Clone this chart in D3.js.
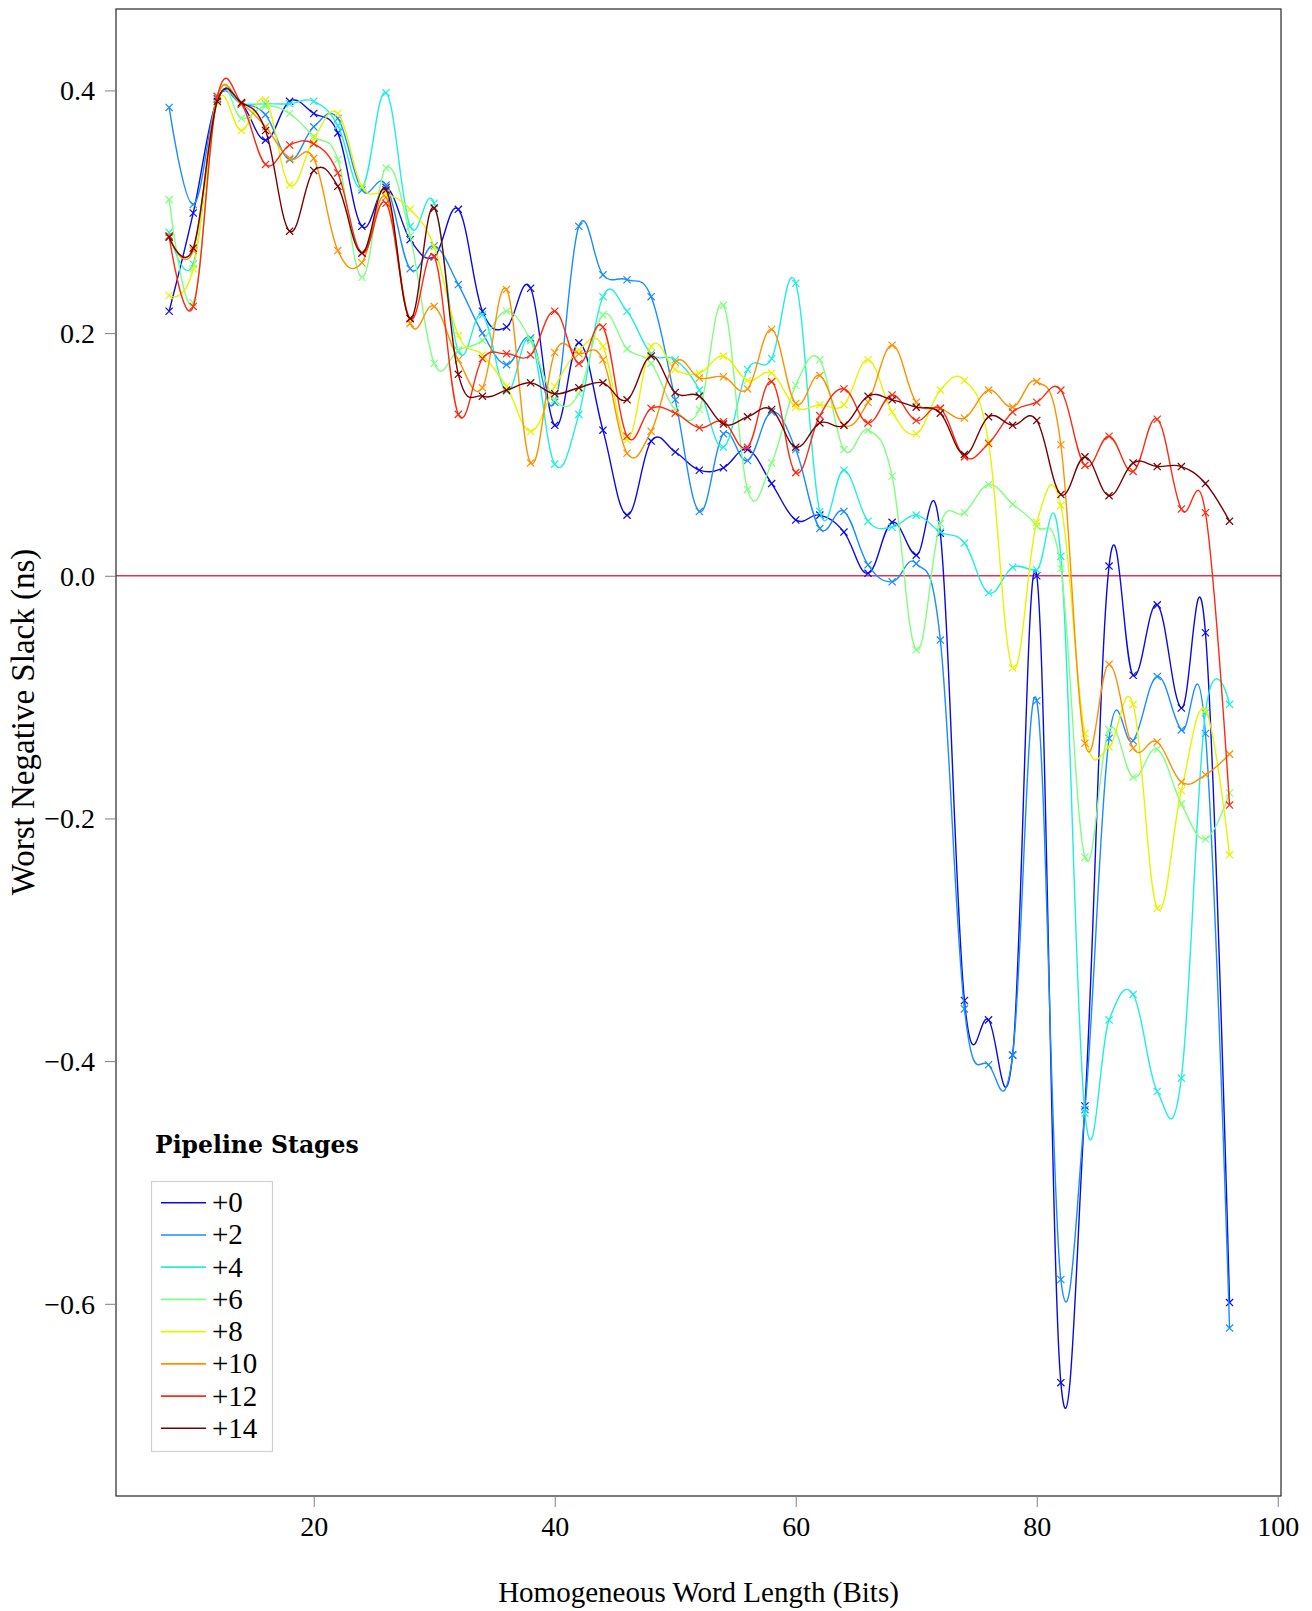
<!DOCTYPE html>
<html>
<head>
<meta charset="utf-8">
<script src="https://cdn.jsdelivr.net/npm/d3@7"></script>
<style>
  html, body { margin: 0; padding: 0; background: #fff; }
  svg { display: block; }
</style>
</head>
<body>
<svg id="chart" width="1312" height="1611"></svg>
<script>
// ---- Data ----
const wordLengths = [8,10,12,14,16,18,20,22,24,26,28,30,32,34,36,38,40,42,44,46,48,50,52,54,56,58,60,62,64,66,68,70,72,74,76,78,80,82,84,86,88,90,92,94,96];

const stageNames = ["+0","+2","+4","+6","+8","+10","+12","+14"];
const stageColors = ["#0a0ae8","#1a8cff","#22eedd","#80ff80","#e4f500","#ff9000","#ff2a10","#7a0000"];

const wns_p0  = [0.218,0.299,0.393,0.389,0.359,0.391,0.381,0.365,0.288,0.320,0.277,0.263,0.302,0.218,0.205,0.237,0.124,0.192,0.120,0.050,0.111,0.102,0.087,0.089,0.104,0.076,0.046,0.050,0.036,0.002,0.044,0.017,0.035,-0.350,-0.366,-0.395,0.000,-0.665,-0.437,0.008,-0.082,-0.024,-0.109,-0.047,-0.599];
const wns_p2  = [0.386,0.306,0.393,0.389,0.380,0.343,0.370,0.377,0.318,0.322,0.253,0.272,0.240,0.200,0.174,0.196,0.143,0.288,0.248,0.244,0.230,0.145,0.053,0.117,0.095,0.135,0.104,0.039,0.053,0.009,-0.005,0.010,-0.053,-0.357,-0.403,-0.395,-0.103,-0.580,-0.440,-0.134,-0.136,-0.083,-0.127,-0.130,-0.620];
const wns_p4  = [0.283,0.257,0.395,0.389,0.389,0.389,0.391,0.371,0.320,0.398,0.288,0.307,0.185,0.215,0.152,0.194,0.092,0.133,0.230,0.218,0.183,0.178,0.153,0.106,0.170,0.179,0.241,0.053,0.087,0.045,0.040,0.050,0.036,0.027,-0.014,0.007,0.005,0.016,-0.443,-0.366,-0.345,-0.425,-0.414,-0.113,-0.106];
const wns_p6  = [0.310,0.225,0.395,0.377,0.387,0.381,0.362,0.343,0.246,0.336,0.280,0.175,0.186,0.194,0.218,0.194,0.145,0.150,0.215,0.187,0.175,0.137,0.137,0.223,0.071,0.093,0.157,0.178,0.104,0.120,0.082,-0.061,0.043,0.052,0.075,0.059,0.041,0.006,-0.232,-0.127,-0.166,-0.143,-0.188,-0.217,-0.179];
const wns_p8  = [0.231,0.253,0.390,0.367,0.392,0.322,0.360,0.381,0.321,0.315,0.302,0.271,0.198,0.182,0.156,0.119,0.156,0.186,0.189,0.112,0.189,0.170,0.167,0.181,0.161,0.167,0.139,0.141,0.141,0.178,0.135,0.117,0.153,0.161,0.110,-0.076,0.044,0.058,-0.130,-0.141,-0.106,-0.274,-0.177,-0.111,-0.230];
const wns_p10 = [0.280,0.268,0.395,0.389,0.370,0.344,0.344,0.268,0.258,0.312,0.208,0.222,0.178,0.155,0.236,0.093,0.184,0.183,0.178,0.101,0.119,0.176,0.163,0.164,0.154,0.203,0.142,0.165,0.124,0.143,0.190,0.143,0.138,0.130,0.153,0.139,0.160,0.108,-0.138,-0.073,-0.142,-0.137,-0.170,-0.164,-0.147];
const wns_p12 = [0.280,0.222,0.395,0.389,0.339,0.355,0.356,0.332,0.266,0.307,0.212,0.263,0.133,0.179,0.183,0.182,0.218,0.175,0.205,0.115,0.138,0.134,0.122,0.127,0.106,0.160,0.085,0.132,0.154,0.126,0.149,0.128,0.138,0.098,0.109,0.135,0.143,0.153,0.091,0.115,0.086,0.129,0.055,0.052,-0.189];
const wns_p14 = [0.279,0.270,0.391,0.390,0.367,0.284,0.334,0.321,0.266,0.318,0.212,0.303,0.166,0.148,0.153,0.159,0.150,0.155,0.159,0.145,0.181,0.151,0.148,0.125,0.131,0.137,0.106,0.126,0.124,0.148,0.145,0.139,0.134,0.100,0.131,0.124,0.128,0.067,0.098,0.066,0.093,0.090,0.090,0.076,0.045];

const seriesValues = [wns_p0, wns_p2, wns_p4, wns_p6, wns_p8, wns_p10, wns_p12, wns_p14];

const xTicks = [20, 40, 60, 80, 100];
const yTicks = [0.4, 0.2, 0.0, -0.2, -0.4, -0.6];
const xLabel = "Homogeneous Word Length (Bits)";
const yLabel = "Worst Negative Slack (ns)";
const legendTitle = "Pipeline Stages";

// ---- Layout ----
const SERIF = '"Liberation Serif", "Times New Roman", serif';
const L = 116, R = 1281, T = 9, B = 1496;
const svg = d3.select("#chart");

const x = d3.scaleLinear().domain([3.59, 100.27]).range([L, R]);
const y = d3.scaleLinear().domain([0.4671, -0.7584]).range([T, B]);

svg.append("defs").append("clipPath").attr("id", "plotclip")
  .append("rect").attr("x", L).attr("y", T).attr("width", R - L).attr("height", B - T);

// zero line
svg.append("line")
  .attr("x1", L).attr("x2", R)
  .attr("y1", y(0)).attr("y2", y(0))
  .attr("stroke", "#e0335a").attr("stroke-width", 1.4);

// series
const line = d3.line()
  .x(d => x(d[0])).y(d => y(d[1]))
  .curve(d3.curveCardinal.tension(-0.15));

const gSeries = svg.append("g").attr("clip-path", "url(#plotclip)");
seriesValues.forEach((vals, i) => {
  const pts = wordLengths.map((w, j) => [w, vals[j]]);
  const g = gSeries.append("g");
  g.append("path").datum(pts)
    .attr("d", line)
    .attr("fill", "none")
    .attr("stroke", stageColors[i])
    .attr("stroke-width", 1.4);
  const s = 3.6;
  g.selectAll("path.mk").data(pts).enter().append("path")
    .attr("class", "mk")
    .attr("d", d => {
      const cx = x(d[0]), cy = y(d[1]);
      return `M${cx - s},${cy - s}L${cx + s},${cy + s}M${cx - s},${cy + s}L${cx + s},${cy - s}`;
    })
    .attr("stroke", stageColors[i])
    .attr("stroke-width", 1.2)
    .attr("fill", "none");
});

// axes frame
svg.append("rect")
  .attr("x", L).attr("y", T).attr("width", R - L).attr("height", B - T)
  .attr("fill", "none").attr("stroke", "#262626").attr("stroke-width", 1.2);

// x axis
const xAxis = d3.axisBottom(x).tickValues(xTicks).tickSize(11).tickPadding(10)
  .tickFormat(d3.format("d"));
const gx = svg.append("g").attr("transform", `translate(0,${B})`).call(xAxis);
gx.select(".domain").remove();
gx.selectAll(".tick line").attr("stroke", "#808080").attr("stroke-width", 1);
gx.selectAll(".tick text")
  .style("font-family", SERIF).style("font-size", "28px")
  .attr("fill", "#000").attr("y", 40).attr("dy", null);

// y axis
const yAxis = d3.axisLeft(y).tickValues(yTicks).tickSize(11).tickPadding(10)
  .tickFormat(d => d3.format(".1f")(d).replace("-", "\u2212"));
const gy = svg.append("g").attr("transform", `translate(${L},0)`).call(yAxis);
gy.select(".domain").remove();
gy.selectAll(".tick line").attr("stroke", "#808080").attr("stroke-width", 1);
gy.selectAll(".tick text")
  .style("font-family", SERIF).style("font-size", "28px")
  .attr("fill", "#000").attr("x", -21).attr("dy", "0.34em");

// axis labels
svg.append("text")
  .attr("x", (L + R) / 2).attr("y", 1602)
  .attr("text-anchor", "middle")
  .style("font-family", SERIF).style("font-size", "29px")
  .text(xLabel);

svg.append("text")
  .attr("transform", "translate(34,722) rotate(-90)")
  .attr("text-anchor", "middle")
  .style("font-family", SERIF).style("font-size", "33px")
  .text(yLabel);

// legend
const lg = svg.append("g");
lg.append("text")
  .attr("x", 155).attr("y", 1153)
  .style("font-family", '"DejaVu Serif", serif').style("font-weight", "bold")
  .style("font-size", "23.5px")
  .text(legendTitle);

lg.append("rect")
  .attr("x", 151.5).attr("y", 1181.5).attr("width", 121).attr("height", 270)
  .attr("fill", "#fff").attr("stroke", "#d0d0d0").attr("stroke-width", 1.2);

stageNames.forEach((name, i) => {
  const yy = 1202.7 + i * 32.23;
  lg.append("line")
    .attr("x1", 161).attr("x2", 206).attr("y1", yy).attr("y2", yy)
    .attr("stroke", stageColors[i]).attr("stroke-width", 1.6);
  lg.append("text")
    .attr("x", 212).attr("y", yy + 9.5)
    .style("font-family", SERIF).style("font-size", "29px")
    .text(name);
});
</script>
</body>
</html>
